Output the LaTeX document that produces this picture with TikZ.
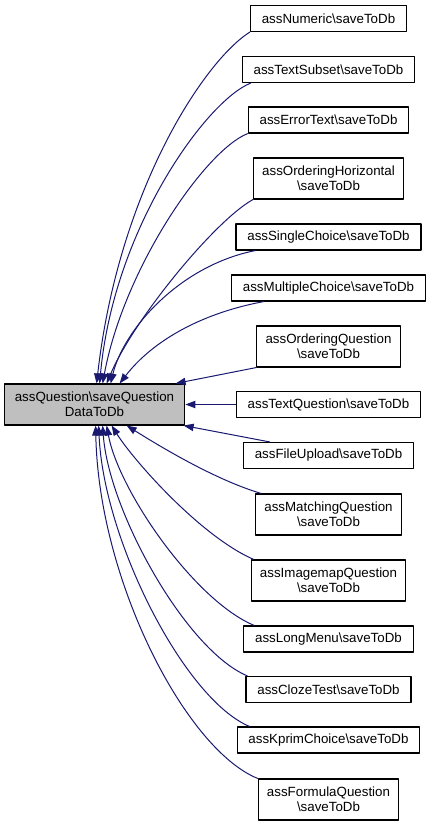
\documentclass[tikz,border=0pt]{standalone}
\usepackage{fontspec}
\setmainfont{Liberation Sans}
\usetikzlibrary{arrows.meta,calc}
\definecolor{edgeblue}{HTML}{191970}
\newcommand{\bksl}{\textbackslash}
\begin{document}
\begin{tikzpicture}[x=0.75pt,y=-0.75pt,line join=round,>={Triangle[length=7.5pt,width=5.5pt]},font=\fontsize{10pt}{11pt}\selectfont]
	\tikzset{f/.style={draw=black,line width=0.8pt,fill=white,inner xsep=8.5pt,inner ysep=0pt,minimum height=19.5pt},
		ff/.style={f,align=center,inner xsep=6.5pt,minimum height=30.75pt},
		e/.style={->,draw=edgeblue,line width=0.75pt}}
	\useasboundingbox (0,0) rectangle (431,825);
	
	\path (94.5,404.5) node[ff,fill=gray!50,inner xsep=8pt](m){assQuestion\bksl saveQuestion\\DataToDb};
	\path (328.5,18.5) node[f](n1){assNumeric\bksl saveToDb}
	(328.5,69.5) node[f](n2){assTextSubset\bksl saveToDb}
	(328.5,120) node[f](n3){assErrorText\bksl saveToDb}
	(328.5,178.5) node[ff](n4){assOrderingHorizontal\\\bksl saveToDb}
	(328.5,237) node[f](n5){assSingleChoice\bksl saveToDb}
	(328.5,288) node[f](n6){assMultipleChoice\bksl saveToDb}
	(328.5,346.5) node[ff](n7){assOrderingQuestion\\\bksl saveToDb}
	(328.5,404.5) node[f](n8){assTextQuestion\bksl saveToDb}
	(328.5,455.5) node[f](n9){assFileUpload\bksl saveToDb}
	(328.5,514.5) node[ff](n10){assMatchingQuestion\\\bksl saveToDb}
	(328.5,580.5) node[ff](n11){assImagemapQuestion\\\bksl saveToDb}
	(328.5,639) node[f](n12){assLongMenu\bksl saveToDb}
	(328.5,689.5) node[f](n13){assClozeTest\bksl saveToDb}
	(328.5,740) node[f](n14){assKprimChoice\bksl saveToDb}
	(328.5,799.5) node[ff](n15){assFormulaQuestion\\\bksl saveToDb};
	
	% callers above
	\foreach \n/\dx/\ax/\ay/\bx/\by/\tx in {n1/0/-45/28/22/-194/93,n2/9/-45/18/14/-154/96,n3/0/-43/17/21/-114/99,
		n4/0/-38/21/27/-64/103,n5/20/-76/15/13/-54/107,n6/33/-60/11/34/-44/116}{
		\draw[e] ($(\n.south west)+(\dx,0)$) .. controls +(\ax,\ay) and +(\bx,\by) .. ($(m.north west)+(\tx,0)$);	}
	% callers below
	\foreach \n/\dx/\ax/\ay/\bx/\by/\tx in {n10/6/-47/-14/32/20/123,n11/3/-53/-23/22/35/108,n12/11/-60/-25/12/65/103,
		n13/2/-62/-26/6/85/99,n14/13/-65/-27/5/115/95,n15/0/-72/-29/3/155/92}{
		\draw[e] ($(\n.north west)+(\dx,0)$) .. controls +(\ax,\ay) and +(\bx,\by) .. ($(m.south west)+(\tx,0)$);	}
	\draw[e] (n7.south west)--($(m.north west)+(172,0)$);
	\draw[e] (n8.west)--(m.east);
	\draw[e] ($(n9.north west)+(27,0)$)--($(m.south west)+(180,0)$);
\end{tikzpicture}
\end{document}
